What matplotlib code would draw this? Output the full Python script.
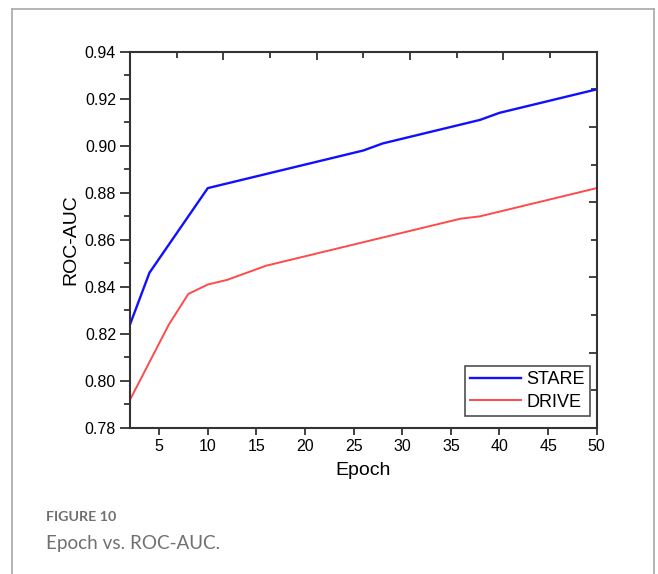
import matplotlib
matplotlib.use("Agg")
import matplotlib.pyplot as plt
from matplotlib.lines import Line2D
from matplotlib.ticker import MultipleLocator

plt.rcParams['font.family'] = ['Liberation Sans', 'DejaVu Sans']

# Data
stare_epochs = [2, 4, 6, 8, 10, 26, 28, 38, 40, 50]
stare_auc = [0.824, 0.846, 0.858, 0.870, 0.882, 0.898, 0.901, 0.911, 0.914, 0.924]
drive_epochs = [2, 4, 6, 8, 10, 12, 16, 36, 38, 50]
drive_auc = [0.792, 0.808, 0.824, 0.837, 0.841, 0.843, 0.849, 0.869, 0.870, 0.882]
series_names = ["STARE", "DRIVE"]
x_label = "Epoch"
y_label = "ROC-AUC"
caption_title = "FIGURE 10"
caption_text = "Epoch vs. ROC-AUC."

W, H = 658, 574
fig = plt.figure(figsize=(W / 100, H / 100), dpi=100)

# outer gray frame (open at bottom)
fc = "#a8a8a8"
fig.add_artist(Line2D([12 / W, 12 / W], [0, 1 - 9 / H], color=fc, lw=1.2, transform=fig.transFigure))
fig.add_artist(Line2D([12 / W, 654 / W], [1 - 9 / H, 1 - 9 / H], color=fc, lw=1.2, transform=fig.transFigure))
fig.add_artist(Line2D([654 / W, 654 / W], [0, 1 - 9 / H], color=fc, lw=1.2, transform=fig.transFigure))

left, right, top, bottom = 130, 596.7, 51.7, 428
ax = fig.add_axes([left / W, 1 - bottom / H, (right - left) / W, (bottom - top) / H])

ax.plot(stare_epochs, stare_auc, color="#1010ff", lw=1.7, label=series_names[0])
ax.plot(drive_epochs, drive_auc, color="#ff4a4a", lw=1.4, label=series_names[1])

ax.set_xlim(2, 50)
ax.set_ylim(0.78, 0.94)
ax.xaxis.set_major_locator(MultipleLocator(5))
ax.yaxis.set_major_locator(MultipleLocator(0.02))
ax.yaxis.set_minor_locator(MultipleLocator(0.01))
ax.yaxis.set_major_formatter(matplotlib.ticker.FormatStrFormatter('%.2f'))

sc = "#333333"
for s in ax.spines.values():
    s.set_color(sc)
    s.set_linewidth(1.5)

ax.tick_params(axis='x', which='major', direction='out', length=5, width=1.3, color=sc,
               labelsize=11.5, pad=3, top=False)
ax.tick_params(axis='y', which='major', direction='out', length=7, width=1.3, color=sc,
               labelsize=11.5, pad=3, right=False)
ax.tick_params(axis='y', which='minor', direction='out', length=4.5, width=1.3, color=sc, right=False)

# secondary top / right axes with inward ticks, no labels
axt = ax.twiny()
axt.set_xlim(0, 10)
axt.xaxis.set_major_locator(MultipleLocator(2))
axt.xaxis.set_minor_locator(MultipleLocator(1))
axt.tick_params(axis='x', which='major', direction='in', length=6, width=1.3, color=sc, labeltop=False)
axt.tick_params(axis='x', which='minor', direction='in', length=4, width=1.3, color=sc)
axr = ax.twinx()
axr.set_ylim(0, 10)
axr.yaxis.set_major_locator(MultipleLocator(2))
axr.yaxis.set_minor_locator(MultipleLocator(1))
axr.tick_params(axis='y', which='major', direction='in', length=6, width=1.3, color=sc, labelright=False)
axr.tick_params(axis='y', which='minor', direction='in', length=4, width=1.3, color=sc)
for a in (axt, axr):
    for s in a.spines.values():
        s.set_visible(False)

ax.set_xlabel(x_label, fontsize=14, labelpad=6)
ax.set_ylabel(y_label, fontsize=14, labelpad=4)

leg = ax.legend(loc='lower right', bbox_to_anchor=(0.9857, 0.032), borderaxespad=0,
                fontsize=13, frameon=True, fancybox=False, handlelength=2.8,
                handletextpad=0.3, borderpad=0.3, labelspacing=0.3)
leg.get_frame().set_edgecolor("#222222")
leg.get_frame().set_linewidth(1.2)
leg.set_zorder(5)
ax.set_zorder(axr.get_zorder() + 1)
ax.patch.set_visible(False)

fig.text(46 / W, 1 - 517 / H, caption_title, fontsize=10.3, fontweight='bold', color="#707070",
         family=['Lato', 'DejaVu Sans'], va='center', ha='left')
fig.text(46 / W, 1 - 543 / H, caption_text, fontsize=13.6, color="#707070",
         family=['Lato', 'DejaVu Sans'], va='center', ha='left')

fig.savefig("out.png", dpi=100)
